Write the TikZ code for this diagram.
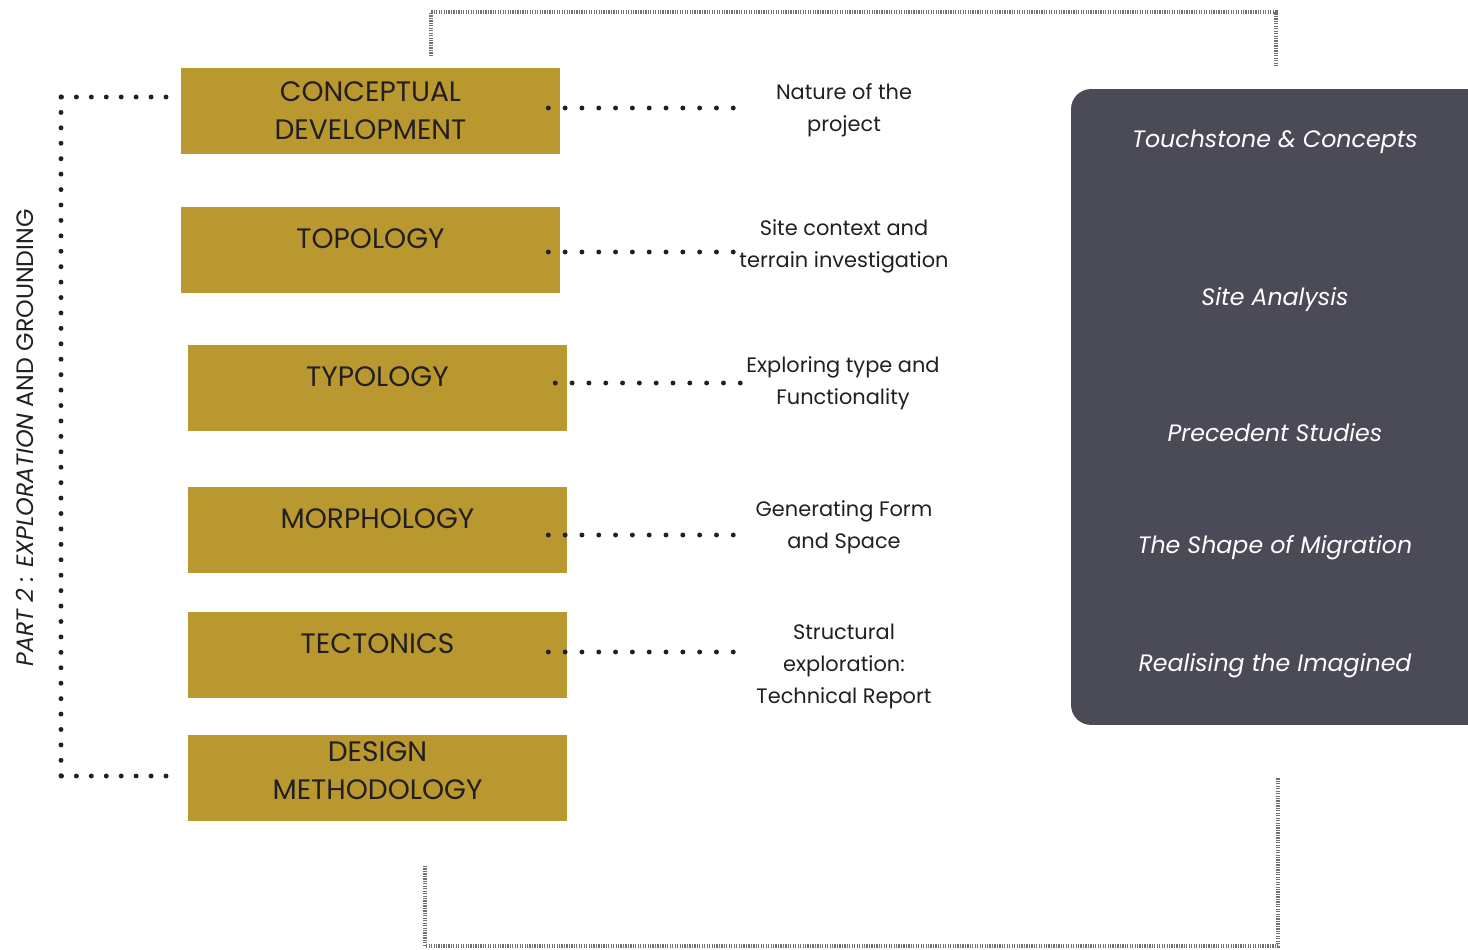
\documentclass[tikz,border=0pt]{standalone}
\usepackage{fontspec}
\setmainfont{Poppins}
\usepackage{tikz}

\definecolor{gold}{HTML}{B99830}
\definecolor{slate}{HTML}{4A4B56}
\definecolor{ink}{HTML}{231F20}
\definecolor{hatch}{HTML}{707070}

\tikzset{
	goldbox/.style={fill=gold, minimum width=7.58cm, minimum height=1.72cm, inner sep=0pt,
		align=center, text=ink, font=\fontsize{16}{21.6}\selectfont},
	raised/.style={text depth=13pt},
	desc/.style={align=center, inner sep=0pt, text=ink,
		font=\fontsize{11.9}{18.2}\selectfont},
	topic/.style={text=white, font=\fontsize{13.5}{16}\selectfont\itshape},
	dotline/.style={ink, line width=2.8pt, line cap=round, dash pattern=on 0pt off 9.57pt},
	hatchline/.style={hatch, line width=2.4pt, dash pattern=on 0.7pt off 0.7pt}
}

\begin{document}
\begin{tikzpicture}[x=0.02cm, y=-0.02cm]
	\useasboundingbox (0,0) rectangle (1468,950);
	% stages
	\node[goldbox] (concept) at (370.5,111) {\rule{0pt}{8pt}CONCEPTUAL\\DEVELOPMENT};
	\node[goldbox,raised] (topo) at (370.5,250) {TOPOLOGY};
	\node[goldbox,raised] (typo) at (377.5,388) {TYPOLOGY};
	\node[goldbox,raised] (morpho) at (377.5,530) {MORPHOLOGY};
	\node[goldbox,raised] (tecto) at (377.5,655) {TECTONICS};
	\node[goldbox, text depth=9pt] (method) at (377.5,778) {DESIGN\\METHODOLOGY};
	% descriptions
	\node[desc] (nature) at (844,110) {Nature of the\\project};
	\node[desc] (site) at (844,246) {Site context and\\terrain investigation};
	\node[desc] (type) at (843,383) {Exploring type and\\Functionality};
	\node[desc] (form) at (844,527) {Generating Form\\and Space};
	\node[desc] (struct) at (844,666) {Structural\\exploration:\\Technical Report};
	\draw[dotline] ([xshift=-0.24cm,yshift=0.06cm]concept.east) -- ([xshift=3.48cm,yshift=0.06cm]concept.east);
	\draw[dotline] ([xshift=-0.24cm,yshift=-0.04cm]topo.east) -- ([xshift=3.48cm,yshift=-0.04cm]topo.east);
	\draw[dotline] ([xshift=-0.24cm,yshift=0.1cm]typo.east) -- ([xshift=3.48cm,yshift=0.1cm]typo.east);
	\draw[dotline] ([xshift=-0.38cm,yshift=-0.1cm]morpho.east) -- ([xshift=3.34cm,yshift=-0.1cm]morpho.east);
	\draw[dotline] ([xshift=-0.38cm,yshift=0.06cm]tecto.east) -- ([xshift=3.34cm,yshift=0.06cm]tecto.east);
	% part 2 bracket
	\coordinate (ptop) at (166,97);
	\coordinate (pbot) at (166,776);
	\coordinate (ctop) at (61,97);
	\coordinate (cbot) at (61,776);
	\draw[dotline, dash pattern=on 0pt off 8.5pt] (ptop) -- (ctop);
	\draw[dotline, dash pattern=on 0pt off 8.78pt] (ctop) -- (cbot);
	\draw[dotline, dash pattern=on 0pt off 8.5pt] (pbot) -- (cbot);
	\node[rotate=90, text=ink, font=\fontsize{13.5}{16}\selectfont] (part) at (25,438)
		{\textit{PART 2 : EXPLORATION} AND GROUNDING};
	% studies panel
	\node[fill=slate, rounded corners=0.4cm, minimum width=8.38cm, minimum height=12.72cm,
		inner sep=0pt] (panel) at (1280.5,407) {};
	\node[topic] (touch) at (1275,142) {Touchstone \& Concepts};
	\node[topic] (analysis) at (1275,300) {Site Analysis};
	\node[topic] (prec) at (1275,433) {Precedent Studies};
	\node[topic] (shape) at (1275,548) {The Shape of Migration};
	\node[topic] (real) at (1275,666) {Realising the Imagined};
	% outer brackets
	\coordinate (tl) at (431,56);
	\coordinate (tr) at (1276,66);
	\coordinate (bl) at (425,866);
	\coordinate (br) at (1278,778);
	\draw[hatchline] (tl) |- (1276,12) -- (tr);
	\draw[hatchline] (bl) |- (1278,946) -- (br);
\end{tikzpicture}
\end{document}
